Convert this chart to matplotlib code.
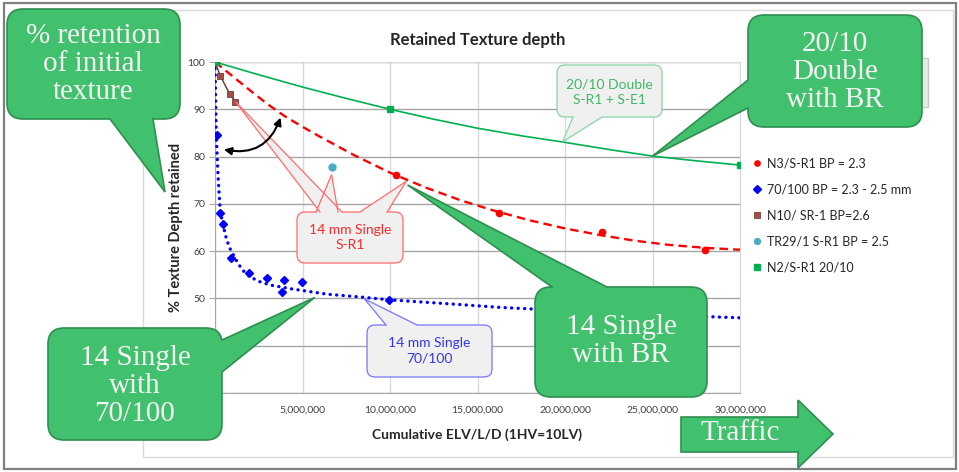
import matplotlib
matplotlib.use("Agg")
import matplotlib.pyplot as plt
from matplotlib.patches import FancyBboxPatch, Polygon, FancyArrowPatch, Rectangle
from matplotlib.lines import Line2D
from matplotlib.ticker import FuncFormatter

# ---------------- data (x: cumulative ELV/L/D, y: % texture depth retained) ----------------
n3_x = [0, 10.35e6, 16.2e6, 22.1e6, 28.0e6]
n3_y = [100, 76.0, 68.0, 64.0, 60.2]

b70_x = [0, 0.10e6, 0.31e6, 0.45e6, 0.93e6, 1.93e6, 2.96e6, 3.82e6, 3.97e6, 4.98e6, 9.97e6]
b70_y = [100, 84.6, 68.1, 65.7, 58.5, 55.3, 54.4, 51.3, 53.9, 53.4, 49.7]

n10_x = [0, 0.30e6, 0.83e6, 1.17e6]
n10_y = [100, 97.1, 93.3, 91.6]

tr29_x = [6.67e6]
tr29_y = [77.7]

n2_x = [0, 10.0e6, 30.0e6]
n2_y = [100, 90.0, 78.2]

# fitted trend lines
n3_trend_x = [0, 1e6, 2e6, 3e6, 4e6, 5e6, 6e6, 8e6, 10e6, 12e6, 14e6, 16e6, 18e6, 20e6,
              22e6, 24e6, 26e6, 28e6, 30e6]
n3_trend_y = [100, 97.0, 94.0, 91.1, 88.5, 86.3, 84.2, 80.2, 76.6, 73.5, 70.8, 68.5, 66.5,
              64.8, 63.4, 62.2, 61.3, 60.7, 60.3]

b70_trend_x = [0, 0.07e6, 0.18e6, 0.30e6, 0.45e6, 0.65e6, 0.85e6, 1.05e6, 1.3e6, 1.6e6,
               2.0e6, 2.5e6, 3.2e6, 4.4e6, 5.5e6, 6.4e6, 8.3e6, 10.0e6, 12.0e6, 14.0e6,
               16.3e6, 18.5e6, 20.0e6, 24.3e6, 27.0e6, 30.0e6]
b70_trend_y = [100, 84.6, 75.5, 68.4, 65.7, 62.6, 60.6, 59.2, 57.5, 55.9, 54.6, 53.6, 52.8,
               52.0, 51.4, 50.9, 50.3, 49.7, 49.2, 48.7, 48.1, 47.7, 47.5, 46.6, 46.3, 45.9]

n2_trend_x = [0, 2.5e6, 5e6, 7.5e6, 10e6, 12.5e6, 15e6, 17.5e6, 20e6, 22.5e6, 25e6,
              27.5e6, 30e6]
n2_trend_y = [100, 97.3, 94.7, 92.3, 90.0, 87.9, 86.0, 84.4, 83.0, 81.5, 80.1, 79.1, 78.2]

series_labels = ["N3/S-R1 BP = 2.3", "70/100 BP = 2.3 - 2.5 mm", "N10/ SR-1 BP=2.6",
                 "TR29/1 S-R1 BP = 2.5", "N2/S-R1 20/10"]
x_ticks = [0, 5e6, 10e6, 15e6, 20e6, 25e6, 30e6]
y_ticks = [30, 40, 50, 60, 70, 80, 90, 100]

SANS = ["Lato", "DejaVu Sans"]
SERIF = ["Liberation Serif", "DejaVu Serif"]
plt.rcParams["font.family"] = SANS

C_RED, C_BLUE, C_BROWN, C_TEAL, C_GREEN = "#ff0000", "#0000ff", "#a24f49", "#4bacc6", "#00b050"
G_FILL, G_EDGE, G_TEXT = "#41c06d", "#2f8f50", "#f4f4f4"

W, H = 959, 472
fig = plt.figure(figsize=(W / 100, H / 100), dpi=100)
ax = fig.add_axes([215 / W, 1 - 393 / H, 525 / W, 331 / H])

# ---------------- chart ----------------
ax.plot(n2_trend_x, n2_trend_y, color=C_GREEN, lw=1.2, zorder=3)
ax.plot(n3_trend_x, n3_trend_y, color=C_RED, lw=1.7, ls=(0, (3.6, 2.2)), zorder=3)
ax.plot(b70_trend_x, b70_trend_y, color=C_BLUE, lw=2.4, ls=(0, (0.05, 1.9)),
        dash_capstyle="round", zorder=3)
ax.plot(n10_x, n10_y, color="#5b3533", lw=1.0, zorder=3)

h1, = ax.plot(n3_x, n3_y, ls="none", marker="o", ms=4.5, color=C_RED, zorder=4)
h2, = ax.plot(b70_x, b70_y, ls="none", marker="D", ms=4.5, color=C_BLUE, zorder=4)
h3, = ax.plot(n10_x[1:], n10_y[1:], ls="none", marker="s", ms=5, color=C_BROWN,
              mec="#7a3a36", mew=0.6, zorder=4)
h4, = ax.plot(tr29_x, tr29_y, ls="none", marker="o", ms=5, color=C_TEAL, zorder=4)
h5, = ax.plot(n2_x, n2_y, ls="none", marker="s", ms=5, color=C_GREEN, zorder=5)

ax.set_xlim(0, 30e6)
ax.set_ylim(30, 100)
ax.set_xticks(x_ticks)
ax.set_yticks(y_ticks)
ax.xaxis.set_major_formatter(FuncFormatter(lambda v, p: f"{int(round(v)):,}"))
ax.grid(axis="y", color="#a6a6a6", lw=1.0)
ax.grid(axis="x", color="#d9d9d9", lw=1.0)
ax.set_axisbelow(True)
for s in ("top", "right"):
    ax.spines[s].set_color("#d9d9d9")
for s in ("left", "bottom"):
    ax.spines[s].set_color("#a6a6a6")
ax.tick_params(axis="y", length=4, color="#a6a6a6", labelsize=7.5, labelcolor="#404040", pad=3)
ax.tick_params(axis="x", length=0, labelsize=7.5, labelcolor="#404040", pad=9)
ax.set_xlabel("Cumulative ELV/L/D (1HV=10LV)", fontsize=10, fontweight="bold",
              color="#262626", labelpad=10)
ax.set_ylabel("% Texture Depth retained", fontsize=10.5, fontweight="bold",
              color="#262626", labelpad=3)

ax.legend([h1, h2, h3, h4, h5], series_labels, loc="upper left",
          bbox_to_anchor=(752 / W, 1 - 157 / H), bbox_transform=fig.transFigure,
          frameon=False, fontsize=9, handlelength=0.8, handletextpad=0.4,
          labelspacing=1.13, borderpad=0, borderaxespad=0, labelcolor="#262626",
          markerscale=0.85)

# ---------------- overlay in pixel coordinates ----------------
ov = fig.add_axes([0, 0, 1, 1], zorder=5)
ov.set_xlim(0, W)
ov.set_ylim(H, 0)
ov.axis("off")
ov.patch.set_alpha(0)


def px(x, y):
    return tuple(ov.transData.inverted().transform(ax.transData.transform((x, y))))


# frames around the chart
ov.add_patch(Rectangle((4, 3), 952, 466, fc="none", ec="#7f7f7f", lw=1.6, zorder=1))
ov.add_patch(Rectangle((143, 10), 810, 447, fc="none", ec="#d9d9d9", lw=1.0, zorder=1))
ov.add_patch(Rectangle((760, 58), 168, 49, fc="#e9e9e9", ec="#c9c9c9", lw=1.0, zorder=1))

ov.text(478, 40, "Retained Texture depth", ha="center", va="center", fontsize=12,
        fontweight="bold", color="#262626", zorder=2)


def callout(box, wedges, fc, ec, lw, rad, z, inner=7):
    x0, y0, x1, y1 = box
    cx, cy = (x0 + x1) / 2, (y0 + y1) / 2
    ov.add_patch(FancyBboxPatch((x0, y0), x1 - x0, y1 - y0,
                                boxstyle=f"round,pad=0,rounding_size={rad}",
                                fc=fc, ec=ec, lw=lw, zorder=z))
    for b1, tip, b2 in wedges:
        def push(p):
            dx, dy = cx - p[0], cy - p[1]
            d = (dx * dx + dy * dy) ** 0.5
            return (p[0] + dx / d * inner, p[1] + dy / d * inner)
        ov.add_patch(Polygon([b1, tip, b2, push(b2), push(b1)], closed=True, fc=fc,
                             ec="none", zorder=z + 0.1))
    for b1, tip, b2 in wedges:
        ov.add_line(Line2D([b1[0], tip[0], b2[0]], [b1[1], tip[1], b2[1]], color=ec, lw=lw,
                           solid_joinstyle="miter", zorder=z + 0.2))


# light callouts inside the plot
LIGHT = "#f0f0f0"
callout((297, 212, 403, 263),
        [((320, 212), px(1.17e6, 91.6), (342, 212)),
         ((316, 212), px(6.66e6, 76.2), (338, 212)),
         ((360, 212), px(10.94e6, 74.8), (387, 212))],
        LIGHT, "#ff6b6b", 0.9, 8, 10)
ov.text(350, 237.5, "14 mm Single\nS-R1", ha="center", va="center", fontsize=10,
        color="#ff2a2a", linespacing=1.35, zorder=11)

callout((367, 325, 492, 377), [((386, 325), px(8.54e6, 49.9), (417, 325))],
        LIGHT, "#7575ff", 0.9, 8, 10)
ov.text(429.5, 351, "14 mm Single\n70/100", ha="center", va="center", fontsize=10,
        color="#3535e8", linespacing=1.35, zorder=11)

callout((557, 65, 662, 117), [((573, 117), px(19.86e6, 83.1), (602, 117))],
        LIGHT, "#86d6a0", 0.9, 8, 10)
ov.text(609.5, 92, "20/10 Double\nS-R1 + S-E1", ha="center", va="center", fontsize=10,
        color="#3fb866", linespacing=1.35, zorder=11)

# curved double-headed arrow between the two trend lines
ov.add_patch(FancyArrowPatch(px(3.8e6, 88.8), px(0.35e6, 81.6),
                             connectionstyle="arc3,rad=-0.45", arrowstyle="<|-|>",
                             mutation_scale=11, color="black", lw=1.5, zorder=12))

# green speech bubbles
serif_kw = dict(ha="center", va="center", family=SERIF, color=G_TEXT, fontsize=21,
                linespacing=1.08)

callout((7, 9, 180, 119), [((110, 119), (165, 192), (153, 119))],
        G_FILL, G_EDGE, 1.2, 16, 20)
ov.text(93, 64, "% retention\nof initial\ntexture", zorder=22, **serif_kw)

callout((748, 15, 922, 127), [((748, 80), px(25e6, 80.1), (748, 108))],
        G_FILL, G_EDGE, 1.2, 16, 20)
ov.text(835, 72, "20/10\nDouble\nwith BR", zorder=22, **serif_kw)

callout((535, 287, 707, 397), [((552, 287), px(11.0e6, 74.0), (607, 287))],
        G_FILL, G_EDGE, 1.2, 16, 20)
ov.text(621, 341, "14 Single\nwith BR", zorder=22, **serif_kw)

callout((48, 328, 222, 440), [((222, 340), px(5.7e6, 50.2), (222, 372))],
        G_FILL, G_EDGE, 1.2, 16, 20)
ov.text(135, 386, "14 Single\nwith\n70/100", zorder=22, **serif_kw)

# traffic arrow
ov.add_patch(Polygon([(681, 417), (798, 417), (798, 400), (833, 434), (798, 468),
                      (798, 452), (681, 452)], closed=True, fc=G_FILL, ec=G_EDGE, lw=1.2,
                     zorder=20))
ov.text(740, 433, "Traffic", zorder=22, **serif_kw)

fig.savefig("out.png", dpi=100)
